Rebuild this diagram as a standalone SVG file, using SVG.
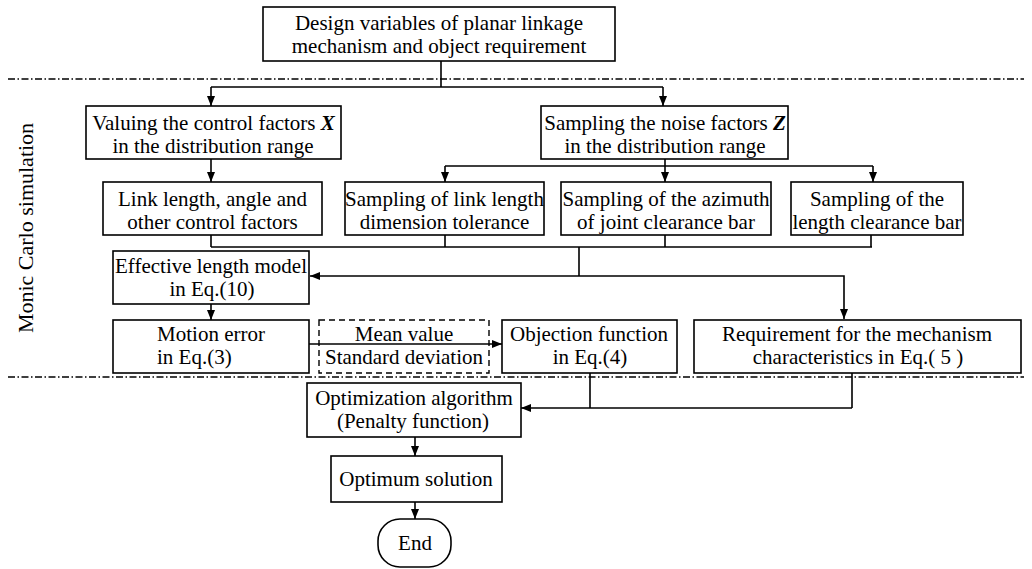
<svg xmlns="http://www.w3.org/2000/svg" width="1032" height="569" viewBox="0 0 1032 569">
<style>
.b{fill:#fff;stroke:#000;stroke-width:1.6}
.d{fill:none;stroke:#000;stroke-width:1.4;stroke-dasharray:6,4}
.t{font-family:"Liberation Serif","Times New Roman",serif;font-size:21px;fill:#000;text-anchor:middle}
.s{text-anchor:start}
.c{fill:none;stroke:#000;stroke-width:1.6}
.dd{fill:none;stroke:#000;stroke-width:1.3;stroke-dasharray:7,2.5,1.5,2.5}
.bi{font-weight:bold;font-style:italic}
</style>
<defs>
<marker id="a" viewBox="0 0 10 8" refX="10" refY="4" markerWidth="10" markerHeight="8" markerUnits="userSpaceOnUse" orient="auto">
<path d="M0,0 L10,4 L0,8 Z" fill="#000"/>
</marker>
</defs>
<g id="dividers">
<line class="dd" x1="8" y1="79" x2="1024" y2="79"/>
<line class="dd" x1="8" y1="377" x2="1024" y2="377"/>
</g>
<text class="t" style="font-size:22px" transform="translate(33,228) rotate(-90)">Monic Carlo simulation</text>
<g id="connectors">
<path class="c" d="M441,61 V87 M211,87 H663"/>
<path class="c" d="M211,87 V106" marker-end="url(#a)"/>
<path class="c" d="M663,87 V106" marker-end="url(#a)"/>
<path class="c" d="M211,159 V182" marker-end="url(#a)"/>
<path class="c" d="M665,159 V166 M445,166 H873"/>
<path class="c" d="M445,166 V182" marker-end="url(#a)"/>
<path class="c" d="M665,166 V182" marker-end="url(#a)"/>
<path class="c" d="M873,166 V182" marker-end="url(#a)"/>
<path class="c" d="M211,235 V247 M445,235 V247 M665,235 V247 M871,235 V247 M211,247 H872 M579,247 V276"/>
<path class="c" d="M579,276 H310" marker-end="url(#a)"/>
<path class="c" d="M579,276 H844 V319" marker-end="url(#a)"/>
<path class="c" d="M211,304 V320" marker-end="url(#a)"/>
<path class="c" d="M309,344 H502" marker-end="url(#a)"/>
<path class="c" d="M590,373 V408 M852,373 V408"/>
<path class="c" d="M852,408 H521" marker-end="url(#a)"/>
<path class="c" d="M415,437 V456" marker-end="url(#a)"/>
<path class="c" d="M415,502 V519" marker-end="url(#a)"/>
</g>
<g id="design">
<rect class="b" x="263" y="7" width="352" height="54"/>
<text class="t" x="439" y="30">Design variables of planar linkage</text>
<text class="t" x="439" y="53">mechanism and object requirement</text>
</g>
<g id="valuing">
<rect class="b" x="86" y="106" width="255" height="53"/>
<text class="t" x="213.5" y="130">Valuing the control factors <tspan class="bi">X</tspan></text>
<text class="t" x="213" y="153">in the distribution range</text>
</g>
<g id="noise">
<rect class="b" x="541" y="106" width="247" height="53"/>
<text class="t" x="665" y="130">Sampling the noise factors <tspan class="bi">Z</tspan></text>
<text class="t" x="665" y="153">in the distribution range</text>
</g>
<g id="link">
<rect class="b" x="103" y="182" width="219" height="53"/>
<text class="t" x="212.5" y="206">Link length, angle and</text>
<text class="t" x="212.5" y="229">other control factors</text>
</g>
<g id="samplink">
<rect class="b" x="345" y="182" width="199" height="53"/>
<text class="t" x="444.5" y="206">Sampling of link length</text>
<text class="t" x="444.5" y="229">dimension tolerance</text>
</g>
<g id="azimuth">
<rect class="b" x="561" y="182" width="210" height="53"/>
<text class="t" x="666" y="206">Sampling of the azimuth</text>
<text class="t" x="666" y="229">of joint clearance bar</text>
</g>
<g id="lengthbar">
<rect class="b" x="791" y="182" width="172" height="53"/>
<text class="t" x="877" y="206">Sampling of the</text>
<text class="t" x="877" y="229">length clearance bar</text>
</g>
<g id="effective">
<rect class="b" x="113" y="251" width="196" height="53"/>
<text class="t" x="211" y="273">Effective length model</text>
<text class="t" x="212" y="296">in  Eq.(10)</text>
</g>
<g id="motion">
<rect class="b" x="113" y="320" width="196" height="53"/>
<text class="t" x="211" y="341">Motion error</text>
<text class="t s" x="157" y="364">in  Eq.(3)</text>
</g>
<g id="stats">
<rect class="d" x="319" y="320" width="170" height="53"/>
<text class="t" x="404" y="341">Mean value</text>
<text class="t" x="404" y="364">Standard deviation</text>
</g>
<g id="objection">
<rect class="b" x="502" y="320" width="175" height="53"/>
<text class="t" x="589" y="341">Objection function</text>
<text class="t" x="590" y="364">in Eq.(4)</text>
</g>
<g id="requirement">
<rect class="b" x="694" y="320" width="327" height="53"/>
<text class="t" x="857" y="341">Requirement for the mechanism</text>
<text class="t" x="858" y="364">characteristics in  Eq.( 5 )</text>
</g>
<g id="optimization">
<rect class="b" x="307" y="383" width="214" height="54"/>
<text class="t" x="414" y="405">Optimization algorithm</text>
<text class="t" x="413" y="428">(Penalty function)</text>
</g>
<g id="optimum">
<rect class="b" x="331" y="456" width="171" height="46"/>
<text class="t" x="416" y="486">Optimum solution</text>
</g>
<g id="end">
<rect class="b" x="378" y="519" width="73" height="48" rx="22" ry="22"/>
<text class="t" x="415" y="550">End</text>
</g>
</svg>
